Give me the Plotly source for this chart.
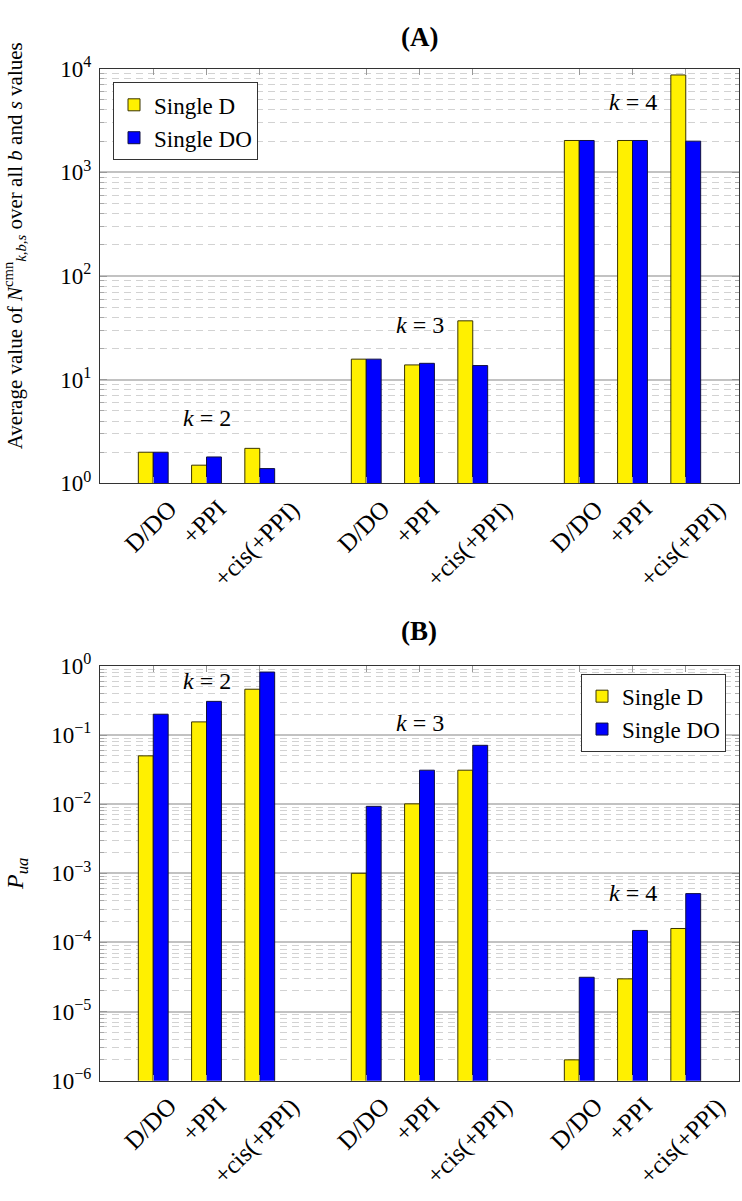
import math
import plotly.graph_objects as go

# ---------------- data ----------------
categories = ["D/DO", "+PPI", "+cis(+PPI)"]
k_values = [2, 3, 4]

# Panel (A): average value of N^cmn_{k,b,s}
a_single_d = [2.0, 1.5, 2.18, 15.8, 13.9, 37.0, 2030, 2030, 8700]
a_single_do = [2.0, 1.8, 1.39, 15.8, 14.4, 13.7, 2030, 2030, 2000]

# Panel (B): P_ua
b_single_d = [0.05, 0.155, 0.46, 0.001, 0.0101, 0.031, 2.0e-6, 2.97e-5, 1.59e-4]
b_single_do = [0.2, 0.307, 0.815, 0.0093, 0.031, 0.071, 3.13e-5, 1.49e-4, 5.08e-4]

series_names = ["Single D", "Single DO"]
tick_exp_a = [0, 1, 2, 3, 4]
tick_exp_b = [-6, -5, -4, -3, -2, -1, 0]

# positions (in data units) of the "k=..." labels
k_label_y_a = [4.3, 33.5, 4790]
k_label_y_b = [0.6, 0.147, 5.1e-4]

# ---------------- styling ----------------
YELLOW = "#FFF000"
BLUE = "#0000FF"
FONT = "Liberation Serif, Times New Roman, serif"
W, H = 742, 1201

# x positions: one slot per category, one empty slot between k groups
x_pos = [g * (len(categories) + 1) + i for g in range(len(k_values)) for i in range(len(categories))]
x_text = [c for _ in k_values for c in categories]
x_range = [-1, x_pos[-1] + 1]

def sup(e):
    return "10<sup>" + (str(e) if e >= 0 else "\u2212" + str(-e)) + "</sup>"

fig = go.Figure()

panels = [
    ("x", "y", "legend", a_single_d, a_single_do),
    ("x2", "y2", "legend2", b_single_d, b_single_do),
]
for xa, ya, leg, d_vals, do_vals in panels:
    fig.add_trace(go.Bar(x=x_pos, y=d_vals, name=series_names[0], xaxis=xa, yaxis=ya, legend=leg,
                         marker=dict(color=YELLOW, line=dict(color="#3a3400", width=1))))
    fig.add_trace(go.Bar(x=x_pos, y=do_vals, name=series_names[1], xaxis=xa, yaxis=ya, legend=leg,
                         marker=dict(color=BLUE, line=dict(color="#101040", width=1))))

x_left, x_right = 100 / W, 739 / W
dom_a = [1 - 479 / H, 1 - 54 / H]
dom_b = [1 - 1091 / H, 1 - 666 / H]

common_x = dict(
    range=x_range, tickvals=x_pos, ticktext=x_text, showticklabels=False,
    showline=True, linecolor="#333333", linewidth=1.2, mirror="ticks",
    ticks="inside", ticklen=6, tickcolor="#999999", showgrid=False, zeroline=False,
    domain=[x_left, x_right],
)
common_y = dict(
    type="log", showline=True, linecolor="#333333", linewidth=1.2, mirror="ticks",
    ticks="inside", ticklen=7, tickcolor="#999999", ticklabelstandoff=3,
    tickfont=dict(family=FONT, size=23, color="black"),
    showgrid=True, gridcolor="#c2c2c2", gridwidth=1.5, zeroline=False,
    minor=dict(dtick="D1", showgrid=True, griddash="7px,5px", gridcolor="#d2d2d2", gridwidth=1,
               ticks="inside", ticklen=4, tickcolor="#aaaaaa"),
)

fig.update_layout(
    xaxis=dict(common_x, anchor="y"),
    xaxis2=dict(common_x, anchor="y2"),
    yaxis=dict(common_y, domain=dom_a, anchor="x",
               range=[tick_exp_a[0], tick_exp_a[-1]],
               tickvals=[10 ** e for e in tick_exp_a], ticktext=[sup(e) for e in tick_exp_a]),
    yaxis2=dict(common_y, domain=dom_b, anchor="x2",
                range=[tick_exp_b[0], tick_exp_b[-1]],
                tickvals=[10 ** e for e in tick_exp_b], ticktext=[sup(e) for e in tick_exp_b],
                title=dict(text="<i>P<sub>ua</sub></i>",
                           font=dict(family=FONT, size=24, color="black"), standoff=20)),
    barmode="group", bargap=0.44, bargroupgap=0.0,
    width=W, height=H, margin=dict(l=0, r=0, t=0, b=0),
    plot_bgcolor="white", paper_bgcolor="white",
    font=dict(family=FONT, size=22, color="black"),
    legend=dict(x=113 / W, y=1 - 68 / H, xanchor="left", yanchor="top",
                bordercolor="#333333", borderwidth=1, bgcolor="white",
                font=dict(family=FONT, size=23), tracegroupgap=0),
    legend2=dict(x=726 / W, y=1 - 674 / H, xanchor="right", yanchor="top",
                 bordercolor="#333333", borderwidth=1, bgcolor="white",
                 font=dict(family=FONT, size=23), tracegroupgap=0),
    showlegend=True,
)

annotations = []
# panel titles
annotations.append(dict(text="<b>(A)</b>", x=(x_left + x_right) / 2, y=1 - 22 / H, xref="paper", yref="paper",
                        showarrow=False, font=dict(family=FONT, size=27), xanchor="center", yanchor="middle"))
annotations.append(dict(text="<b>(B)</b>", x=(x_left + x_right) / 2, y=1 - 630 / H, xref="paper", yref="paper",
                        showarrow=False, font=dict(family=FONT, size=27), xanchor="center", yanchor="middle"))
# y-axis label of panel (A)
annotations.append(dict(text="Average value of <i>N</i><sup>cmn</sup><sub><i>k,b,s</i></sub> over all <i>b</i> and <i>s</i> values",
                        x=14 / W, y=1 - 236 / H, xref="paper", yref="paper", textangle=-90,
                        showarrow=False, font=dict(family=FONT, size=21), xanchor="center", yanchor="middle"))
# rotated category labels, centred under each tick
for xr, yr in (("x", "y"), ("x2", "y2")):
    for xp, txt in zip(x_pos, x_text):
        annotations.append(dict(text=txt, x=xp, y=0, xref=xr, yref=yr + " domain", textangle=-45,
                                showarrow=False, font=dict(family=FONT, size=25), xanchor="center",
                                yanchor="top", yshift=-9, xshift=-3))
# k labels, centred over the middle category of each group
for g, k in enumerate(k_values):
    xc = x_pos[g * len(categories) + 1]
    for xr, yr, yv in (("x", "y", k_label_y_a[g]), ("x2", "y2", k_label_y_b[g])):
        annotations.append(dict(text="<i>k</i> = " + str(k), x=xc, y=math.log10(yv), xref=xr, yref=yr,
                                showarrow=False, font=dict(family=FONT, size=24), xanchor="center", yanchor="middle"))
fig.update_layout(annotations=annotations)

fig.write_html("out.html", config={"displayModeBar": False},
               post_script="document.body.style.margin='0';document.body.style.padding='0';")
